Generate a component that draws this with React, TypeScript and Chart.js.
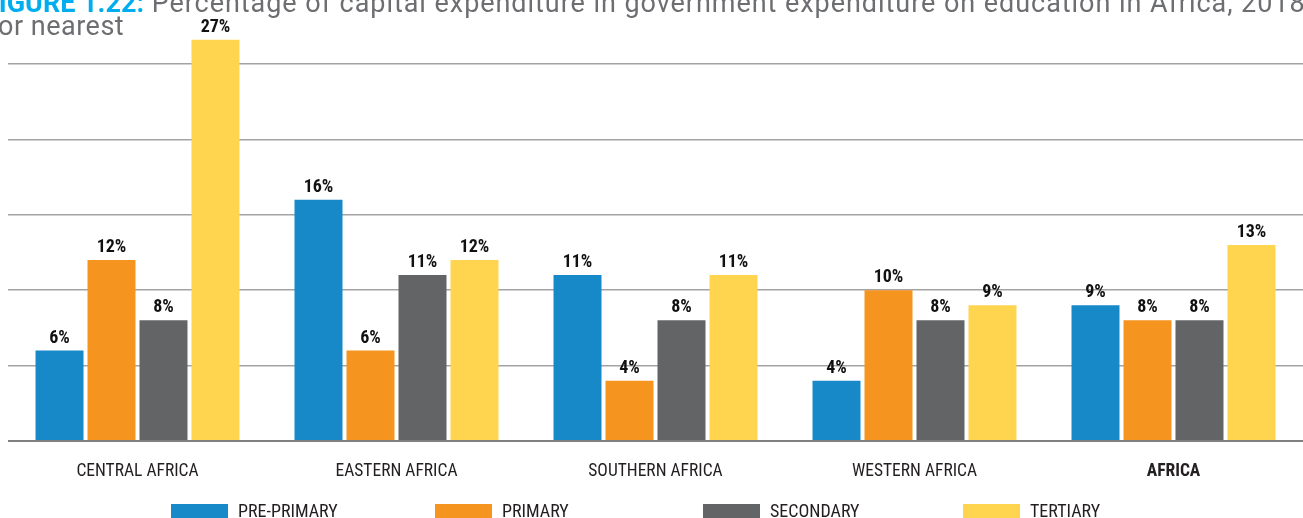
import React, { useEffect, useRef } from "react";
import { Chart, registerables } from "chart.js";

Chart.register(...registerables);

const categories = ["CENTRAL AFRICA", "EASTERN AFRICA", "SOUTHERN AFRICA", "WESTERN AFRICA", "AFRICA"];
const seriesNames = ["PRE-PRIMARY", "PRIMARY", "SECONDARY", "TERTIARY"];
const prePrimary = [6, 16, 11, 4, 9];
const primary = [12, 6, 4, 10, 8];
const secondary = [8, 11, 8, 8, 8];
const tertiary = [26.6, 12, 11, 9, 13];
const seriesColors = ["#1789c9", "#f5941f", "#636466", "#ffd44f"];
const yTicks = [0, 5, 10, 15, 20, 25];
const legendLeft = [171, 435, 703, 963];

const COND = '"Liberation Sans Narrow", "Roboto Condensed", "DejaVu Sans Condensed", "Arial Narrow", Roboto, sans-serif';

const labelPlugin = {
  id: "barLabels",
  afterDatasetsDraw(chart: any) {
    const ctx = chart.ctx;
    ctx.save();
    ctx.font = `bold 18px ${COND}`;
    ctx.fillStyle = "#111111";
    ctx.textAlign = "center";
    ctx.textBaseline = "alphabetic";
    chart.data.datasets.forEach((ds: any, i: number) => {
      const meta = chart.getDatasetMeta(i);
      meta.data.forEach((bar: any, j: number) => {
        const v = ds.data[j];
        ctx.fillText(`${Math.round(v)}%`, bar.x, bar.y - 8);
      });
    });
    ctx.restore();
  },
};

export default function App() {
  const ref = useRef<HTMLCanvasElement | null>(null);
  useEffect(() => {
    if (!ref.current) return;
    const allSeries = [prePrimary, primary, secondary, tertiary];
    const chart = new Chart(ref.current, {
      type: "bar",
      data: {
        labels: categories,
        datasets: allSeries.map((d, i) => ({
          label: seriesNames[i],
          data: d,
          backgroundColor: seriesColors[i],
          borderWidth: 0,
          categoryPercentage: 0.803,
          barPercentage: 0.923,
          clip: false as any,
        })),
      },
      options: {
        animation: false,
        responsive: false,
        maintainAspectRatio: false,
        layout: { padding: { top: 64, left: 0, right: 0, bottom: 0 } },
        plugins: { legend: { display: false }, tooltip: { enabled: false }, title: { display: false } },
        scales: {
          x: {
            grid: { display: false, drawTicks: false },
            border: { display: false },
            ticks: {
              padding: 20,
              color: "#231f20",
              font: (c: any) => ({
                family: COND,
                size: 17.5,
                weight: c.index === 4 ? "bold" : "normal",
              }),
              maxRotation: 0,
              autoSkip: false,
            },
            afterFit: (s: any) => {
              s.height = 77;
            },
          },
          y: {
            min: 0,
            max: 25,
            afterBuildTicks: (s: any) => {
              s.ticks = yTicks.map((v) => ({ value: v }));
            },
            grid: {
              drawTicks: false,
              lineWidth: (c: any) => (c.tick && c.tick.value === 0 ? 2 : 1.5),
              color: (c: any) => (c.tick && c.tick.value === 0 ? "#808080" : "#a3a3a3"),
            },
            border: { display: false },
            ticks: { display: false },
            afterFit: (s: any) => {
              s.width = 0;
            },
          },
        },
      },
      plugins: [labelPlugin],
    });
    return () => chart.destroy();
  }, []);

  const titleStyle: React.CSSProperties = {
    position: "absolute",
    whiteSpace: "nowrap",
    fontFamily: "Roboto, sans-serif",
    fontSize: 27,
    lineHeight: "30px",
    color: "#6d6e71",
  };

  return (
    <div
      style={{
        position: "fixed",
        left: 0,
        top: 0,
        width: 1303,
        height: 518,
        overflow: "hidden",
        background: "#ffffff",
      }}
    >
      <canvas ref={ref} width={1295} height={518} style={{ position: "absolute", left: 8, top: 0, width: 1295, height: 518 }} />
      <div style={{ ...titleStyle, left: -16, top: -12 }}>
        <span style={{ color: "#00aeef", fontWeight: 700 }}>FIGURE 1.22:</span>
        <span style={{ letterSpacing: "0.95px" }}> Percentage of capital expenditure in government expenditure on education in Africa, 2018</span>
      </div>
      <div style={{ ...titleStyle, left: -2, top: 11, letterSpacing: "0.5px" }}>or nearest</div>
      {seriesNames.map((n, i) => (
        <div key={n} style={{ position: "absolute", left: legendLeft[i], top: 503, height: 20, whiteSpace: "nowrap" }}>
          <div style={{ position: "absolute", left: 0, top: 1, width: 57, height: 16, background: seriesColors[i] }} />
          <div
            style={{
              position: "absolute",
              left: 67,
              top: -2,
              fontFamily: COND,
              fontSize: 18,
              lineHeight: "20px",
              color: "#231f20",
            }}
          >
            {n}
          </div>
        </div>
      ))}
    </div>
  );
}
